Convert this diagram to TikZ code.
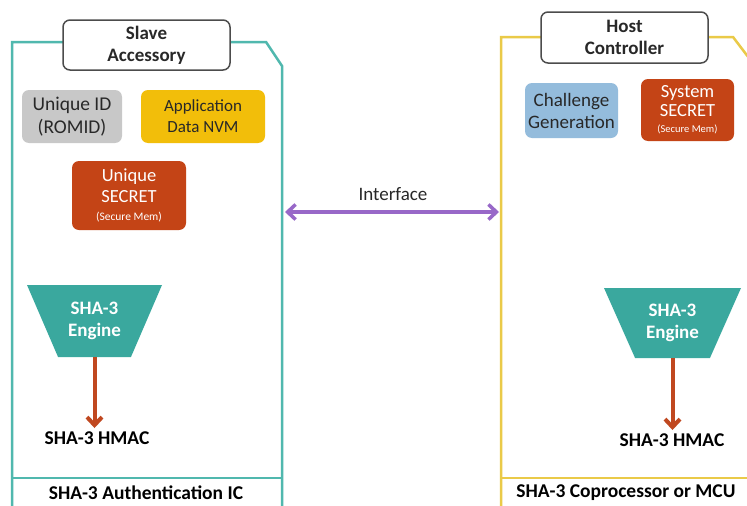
\documentclass[tikz,border=0pt]{standalone}
\usepackage{fontspec}
\setmainfont{Carlito}
\usetikzlibrary{shapes.geometric,arrows.meta}

\definecolor{tealline}{RGB}{80,184,174}
\definecolor{tealfill}{RGB}{58,168,158}
\definecolor{goldline}{RGB}{234,202,72}
\definecolor{idgray}{RGB}{200,200,200}
\definecolor{nvmyellow}{RGB}{242,190,10}
\definecolor{secretred}{RGB}{196,68,22}
\definecolor{chalblue}{RGB}{148,188,220}
\definecolor{ifpurple}{RGB}{152,104,200}
\definecolor{hmacred}{RGB}{192,72,32}
\definecolor{txtgray}{RGB}{40,40,40}

\tikzset{
	tab/.style={draw=gray!60!black,fill=white,rounded corners=7pt,line width=1.5pt,
		minimum width=167pt,align=center,text=txtgray,font=\fontsize{19}{22}\selectfont\bfseries},
	mem/.style={rounded corners=7pt,align=center,inner sep=2pt},
	engine/.style={trapezium,trapezium stretches body,shape border rotate=180,
		trapezium angle=55,fill=tealfill,text=white,align=center,
		font=\fontsize{19}{22}\selectfont\bfseries},
	plain/.style={text=black,font=\fontsize{19.5}{22}\selectfont\bfseries},
}

\begin{document}
\begin{tikzpicture}[x=1pt,y=-1pt,>={Straight Barb[length=8pt,width=15pt]}]
\clip (0,0) rectangle (747,506);
\fill[white] (0,0) rectangle (747,506);

% outer boxes
\draw[tealline,line width=2.5pt] (12,510)--(12,42)--(266,42)--(282,66)--(282,510);
\draw[tealline,line width=1.5pt] (12,478)--(282,478);
\draw[goldline,line width=2.5pt] (501,510)--(501,37)--(733,37)--(752,62);
\draw[goldline,line width=1.5pt] (501,478)--(747,478);

% slave side
\node[tab,minimum height=50pt] (tabL) at (146.5,45) {Slave\\Accessory};
\node[mem,fill=idgray,minimum width=100pt,minimum height=53pt,text=txtgray,
	font=\fontsize{19.5}{23}\selectfont] (idbox) at (72,116.5) {Unique ID\\(ROMID)};
\node[mem,fill=nvmyellow,minimum width=124pt,minimum height=53pt,text=txtgray,
	font=\fontsize{17}{21}\selectfont] (nvm) at (203,116.5) {Application\\Data NVM};
\node[mem,fill=secretred,minimum width=114pt,minimum height=69pt,text=white,
	font=\fontsize{18.5}{21}\selectfont] (usecret) at (129,195.5)
	{Unique\\SECRET\\[-3pt]{\fontsize{11.5}{12}\selectfont(Secure Mem)}};
\node[engine,minimum width=135pt,minimum height=72pt] (engL) at (94.5,321) {SHA-3\\Engine};
\node[plain] (hmacL) at (97,438) {SHA-3 HMAC};
\node[plain] (footL) at (146,493) {SHA-3 Authentication IC};
\draw[hmacred,line width=4pt,->] (engL.south)--(engL.south|-hmacL.north);

% host side
\node[tab,minimum height=51pt] (tabR) at (624.5,37.5) {Host\\Controller};
\node[mem,fill=chalblue,minimum width=93pt,minimum height=55pt,text=txtgray,
	font=\fontsize{19}{22}\selectfont] (chal) at (571.5,110.5) {Challenge\\Generation};
\node[mem,fill=secretred,minimum width=93pt,minimum height=62pt,text=white,
	font=\fontsize{18.5}{19}\selectfont] (ssecret) at (687.5,110)
	{System\\SECRET\\[-3pt]{\fontsize{10.5}{11}\selectfont(Secure Mem)}};
\node[engine,minimum width=137pt,minimum height=70pt] (engR) at (672.5,323) {SHA-3\\Engine};
\node[plain] (hmacR) at (672,440) {SHA-3 HMAC};
\node[plain] (footR) at (626,493) {SHA-3 Coprocessor or MCU};
\draw[hmacred,line width=4pt,->] (engR.south)--(engR.south|-hmacR.north);

% interface
\coordinate (ifL) at (285,212);
\coordinate (ifR) at (499,212);
\draw[ifpurple,line width=3.5pt,<->] (ifL)--(ifR);
\node[text=txtgray,font=\fontsize{19}{22}\selectfont] (iflabel) at (393,194) {Interface};
\end{tikzpicture}
\end{document}
